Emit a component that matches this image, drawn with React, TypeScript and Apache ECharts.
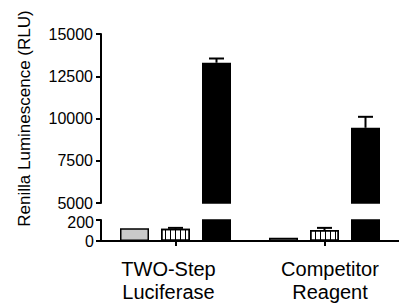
import React, { useEffect, useRef } from "react";
import * as echarts from "echarts";

const categories = ["TWO-Step\nLuciferase", "Competitor\nReagent"];
const grayValues = [121, 30];
const grayErrors = [0, 0];
const stripeValues = [117, 105];
const stripeErrors = [8, 20];
const blackValues = [13300, 9450];
const blackErrors = [250, 650];
const topMin = 5000;
const topMax = 15000;
const topInterval = 2500;
const bottomMin = 0;
const bottomMax = 200;
const bottomInterval = 200;

const FONT = "Liberation Sans";
const BAR_W = 29;
const BAR_STEP = 41;
const LABEL_PADS = [
  [0, 14, 0, 0],
  [0, 0, 0, 11],
];

export default function App() {
  const ref = useRef<HTMLDivElement>(null);
  useEffect(() => {
    if (!ref.current) return;
    const chart = echarts.init(ref.current, undefined, { renderer: "svg" });

    const groups = [
      { values: grayValues, errors: grayErrors },
      { values: stripeValues, errors: stripeErrors },
      { values: blackValues, errors: blackErrors },
    ];
    const styles: any[] = [
      { color: "#c9c9c9", borderColor: "#000", borderWidth: 1.5 },
      {
        color: "#fff",
        borderColor: "#000",
        borderWidth: 1.5,
        decal: {
          symbol: "rect",
          symbolSize: 1,
          dashArrayX: [1, 4],
          dashArrayY: [5, 0],
          color: "#000",
          rotation: 0,
        },
      },
      { color: "#000", borderColor: "#000", borderWidth: 1.5 },
    ];

    const ranges = [
      [topMin, topMax],
      [bottomMin, bottomMax],
    ];

    const series: any[] = [];
    ranges.forEach(([mn, mx], gi) => {
      groups.forEach((g, k) => {
        series.push({
          type: "bar",
          xAxisIndex: gi,
          yAxisIndex: gi,
          barWidth: BAR_W,
          barGap: `${((BAR_STEP - BAR_W) / BAR_W) * 100}%`,
          data: g.values.map((v) => (v > mn ? v : null)),
          itemStyle: styles[k],
          clip: true,
          silent: true,
        });
      });
      const errData: any[] = [];
      groups.forEach((g, k) => {
        g.values.forEach((v, ci) => {
          const e = g.errors[ci];
          if (e > 0 && v >= mn && v + e <= mx) errData.push([ci, v, e, k]);
        });
      });
      series.push({
        type: "custom",
        xAxisIndex: gi,
        yAxisIndex: gi,
        data: errData,
        encode: { x: 0, y: 1 },
        silent: true,
        z: 5,
        renderItem: (params: any, api: any) => {
          const ci = api.value(0);
          const v = api.value(1);
          const e = api.value(2);
          const k = api.value(3);
          const p0 = api.coord([ci, v]);
          const p1 = api.coord([ci, v + e]);
          const x = p0[0] + (k - 1) * BAR_STEP;
          const st = { stroke: "#000", lineWidth: 2 };
          return {
            type: "group",
            children: [
              { type: "line", shape: { x1: x, y1: p0[1], x2: x, y2: p1[1] }, style: st },
              { type: "line", shape: { x1: x - 7.5, y1: p1[1], x2: x + 7.5, y2: p1[1] }, style: st },
            ],
          };
        },
      });
    });

    const axisLine = { show: true, lineStyle: { color: "#000", width: 2 } };
    const axisTick = { show: true, length: 5, lineStyle: { color: "#000", width: 2 } };
    const labelStyle = { color: "#000", fontFamily: FONT, fontSize: 16 };

    chart.setOption({
      animation: false,
      grid: [
        { left: 101, top: 34, width: 306, height: 169 },
        { left: 101, top: 220, width: 306, height: 21 },
      ],
      xAxis: [
        { type: "category", gridIndex: 0, data: categories, show: false },
        {
          type: "category",
          gridIndex: 1,
          data: categories.map((c, i) => ({ value: c, textStyle: { padding: LABEL_PADS[i] } })),
          axisLine,
          axisTick: { ...axisTick, alignWithLabel: true },
          axisLabel: { ...labelStyle, fontSize: 20, margin: 17, lineHeight: 22.5, interval: 0 },
        },
      ],
      yAxis: [
        {
          type: "value",
          gridIndex: 0,
          min: topMin,
          max: topMax,
          interval: topInterval,
          axisLine,
          axisTick,
          splitLine: { show: false },
          axisLabel: { ...labelStyle, margin: 8, formatter: (v: number) => String(v) },
          name: "Renilla Luminescence (RLU)",
          nameLocation: "middle",
          nameGap: 68,
          nameTextStyle: { ...labelStyle, fontSize: 17 },
        },
        {
          type: "value",
          gridIndex: 1,
          min: bottomMin,
          max: bottomMax,
          interval: bottomInterval,
          axisLine,
          axisTick,
          splitLine: { show: false },
          axisLabel: {
            ...labelStyle,
            margin: 7,
            formatter: (v: number) => (v === bottomMax ? `{d|${v}}` : String(v)),
            rich: { d: { ...labelStyle, padding: [4, 0, 0, 0] } },
          },
        },
      ],
      series,
    });
    return () => chart.dispose();
  }, []);
  return (
    <div
      ref={ref}
      style={{ position: "fixed", left: 0, top: 0, width: 399, height: 305, background: "#fff" }}
    />
  );
}
